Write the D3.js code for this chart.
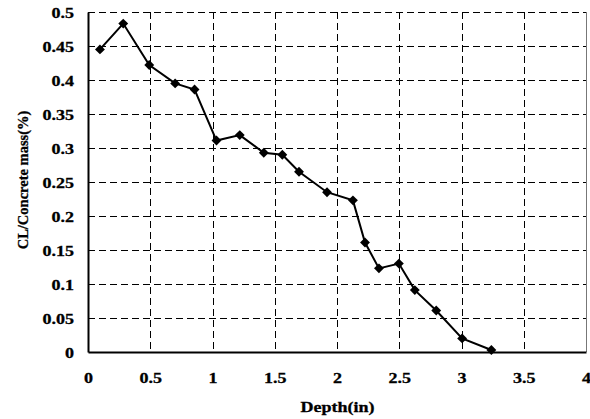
<!DOCTYPE html>
<html>
<head>
<meta charset="utf-8">
<script src="https://cdn.jsdelivr.net/npm/d3@7"></script>
<style>
  html, body { margin: 0; padding: 0; background: #fff; }
</style>
</head>
<body>
<svg id="chart" width="590" height="419"></svg>
<script>
// Chloride content profile by depth
const depth = [0.096, 0.283, 0.492, 0.700, 0.856, 1.032, 1.219, 1.412, 1.561, 1.695,
               1.920, 2.128, 2.225, 2.337, 2.497, 2.625, 2.797, 3.005, 3.240];
const chloride = [0.445, 0.483, 0.422, 0.395, 0.386, 0.311, 0.319, 0.293, 0.290, 0.265,
                  0.235, 0.223, 0.161, 0.123, 0.130, 0.091, 0.061, 0.020, 0.003];
const xTicks = [0, 0.5, 1, 1.5, 2, 2.5, 3, 3.5, 4];
const yTicks = [0, 0.05, 0.1, 0.15, 0.2, 0.25, 0.3, 0.35, 0.4, 0.45, 0.5];

const FONT = "'Liberation Serif', 'Times New Roman', serif";
const STRETCH = 1.2;   // wide glyphs for the horizontal labels

const svg = d3.select("#chart");
const plot = { left: 88, right: 586, top: 12, bottom: 352 };

const x = d3.scaleLinear().domain([0, 4]).range([plot.left, plot.right]);
const y = d3.scaleLinear().domain([0, 0.5]).range([plot.bottom, plot.top]);

// heavy bold text helper
const boldText = (sel, size) => sel
  .style("font-family", FONT).style("font-weight", "bold").style("font-size", size + "px")
  .attr("fill", "#000").attr("stroke", "#000").attr("stroke-width", 0.3);

// dashed grid
const grid = svg.append("g").attr("stroke", "#000").attr("stroke-width", 1)
  .attr("stroke-dasharray", "7,4").attr("shape-rendering", "crispEdges");
grid.selectAll("line.h").data(yTicks.filter(d => d > 0)).join("line").attr("class", "h")
  .attr("x1", plot.left).attr("x2", plot.right)
  .attr("y1", d => Math.round(y(d)) + 0.5).attr("y2", d => Math.round(y(d)) + 0.5);
grid.selectAll("line.v").data(xTicks.filter(d => d > 0 && d < 4)).join("line")
  .attr("class", "v")
  .attr("y1", plot.top).attr("y2", plot.bottom)
  .attr("x1", d => Math.round(x(d)) + 0.5).attr("x2", d => Math.round(x(d)) + 0.5);

// right border
svg.append("line").attr("x1", plot.right + 0.5).attr("x2", plot.right + 0.5)
  .attr("y1", plot.top).attr("y2", plot.bottom).attr("stroke", "#777").attr("stroke-width", 1);

// axes
const xAxis = d3.axisBottom(x).tickValues(xTicks).tickSize(0).tickPadding(0)
  .tickFormat(d3.format("~g"));
const yAxis = d3.axisLeft(y).tickValues(yTicks).tickSize(0).tickPadding(0)
  .tickFormat(d3.format("~g"));

const gx = svg.append("g").attr("transform", `translate(0,${plot.bottom})`).call(xAxis);
const gy = svg.append("g").attr("transform", `translate(${plot.left},0)`).call(yAxis);
[gx, gy].forEach(g => {
  g.attr("font-family", null).attr("font-size", null);
  g.select(".domain").attr("stroke", "#000").attr("stroke-width", 2);
  boldText(g.selectAll("text"), 15);
});
gx.selectAll("text").attr("y", 31).attr("dy", null)
  .attr("transform", `scale(${STRETCH},1)`);
gy.selectAll("text").attr("x", -14 / STRETCH).attr("dy", "0.34em")
  .attr("transform", `scale(${STRETCH},1)`);

// line and diamond markers
const line = d3.line().x((d, i) => x(depth[i])).y(d => y(d));
svg.append("path").datum(chloride).attr("d", line)
  .attr("fill", "none").attr("stroke", "#000").attr("stroke-width", 2);

const diamond = d3.symbol().type(d3.symbolDiamond2).size(62);
svg.selectAll("path.pt").data(chloride).join("path").attr("class", "pt")
  .attr("d", diamond)
  .attr("transform", (d, i) => `translate(${x(depth[i])},${y(d)})`)
  .attr("fill", "#000");

// axis titles
boldText(svg.append("text")
  .attr("transform", `translate(337.5,412) scale(${STRETCH},1)`)
  .attr("text-anchor", "middle"), 15)
  .text("Depth(in)");
boldText(svg.append("text").attr("transform", "translate(28,180) rotate(-90)")
  .attr("text-anchor", "middle"), 14.5)
  .text("CL/Concrete mass(%)");
</script>
</body>
</html>
